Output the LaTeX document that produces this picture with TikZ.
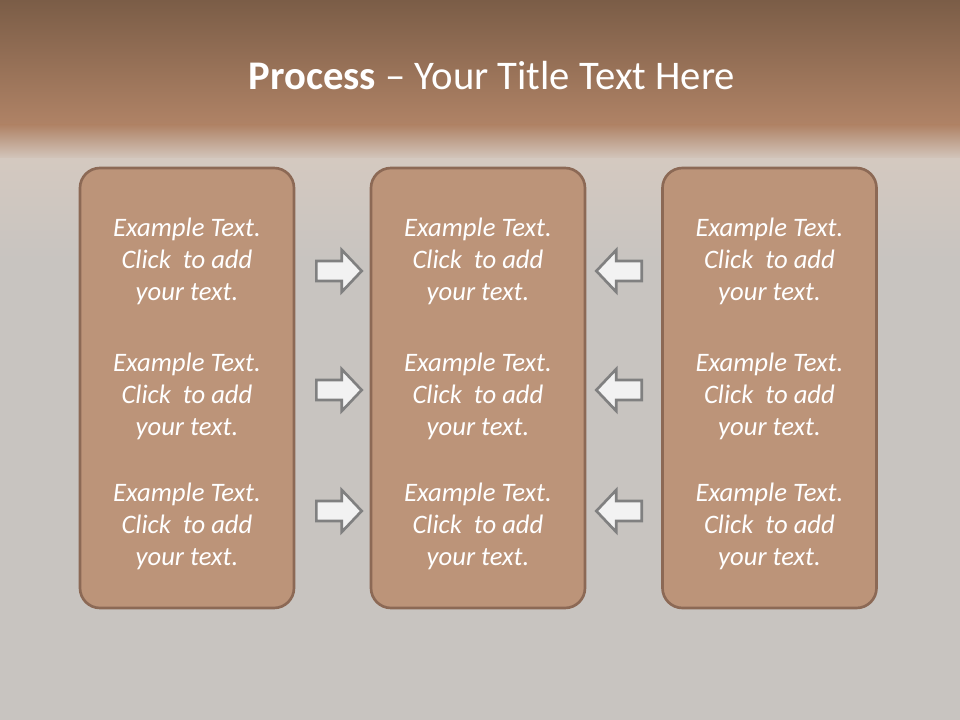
\documentclass[tikz,border=0pt]{standalone}
\usepackage{fontspec}
\setmainfont{Carlito}
\usetikzlibrary{shapes.arrows}
\definecolor{topbrown}{RGB}{123,93,71}
\definecolor{midbrown}{RGB}{176,131,102}
\definecolor{paleband}{RGB}{212,201,192}
\definecolor{greybg}{RGB}{200,196,192}
\definecolor{boxfill}{RGB}{188,148,121}
\definecolor{boxline}{RGB}{140,105,85}
\definecolor{arrfill}{RGB}{242,242,242}
\definecolor{arrline}{RGB}{128,128,128}
\tikzset{
  column/.style={draw=boxline, fill=boxfill, line width=2pt, rounded corners=15pt,
    minimum width=160.5pt, minimum height=330pt, inner sep=0pt},
  blurb/.style={text=white, font=\fontsize{20}{24}\selectfont\itshape, align=center, inner sep=0pt},
  rarrow/.style={single arrow, draw=arrline, fill=arrfill, line width=2pt,
    inner xsep=0pt, inner ysep=6.5pt,
    minimum height=34pt, single arrow head extend=8.25pt,
    single arrow tip angle=93, anchor=tail},
  larrow/.style={rarrow, shape border rotate=180}
}
\begin{document}
\begin{tikzpicture}[x=0.75pt, y=-0.75pt]
  \useasboundingbox (0,0) rectangle (960,720);
  % background
  \fill[top color=topbrown, bottom color=midbrown] (0,0) rectangle (960,126);
  \fill[top color=midbrown, bottom color=paleband] (0,125) rectangle (960,160);
  \fill[top color=paleband, bottom color=greybg] (0,159) rectangle (960,260);
  \fill[greybg] (0,259) rectangle (960,720);
  % title
  \node[text=white, font=\fontsize{30.5}{36}\selectfont, inner sep=0pt] (title) at (492,76)
    {\textbf{Process} -- Your Title Text Here};
  % columns
  \node[column] (left) at (187,388) {};
  \node[column] (mid) at (478,388) {};
  \node[column] (right) at (769.5,388) {};
  % texts
  \foreach \col/\cx in {left/187, mid/478, right/769.5}{
    \foreach \row/\cy in {1/261, 2/396, 3/526}{
      \node[blurb] (\col-\row) at (\cx,\cy) {Example Text.\\Click\ \ to add\\your text.};
    }
  }
  % arrows
  \foreach \row/\cy in {1/271, 2/390, 3/511}{
    \node[rarrow] (ra-\row) at (315,\cy) {};
    \node[larrow] (la-\row) at (643,\cy) {};
  }
\end{tikzpicture}
\end{document}
